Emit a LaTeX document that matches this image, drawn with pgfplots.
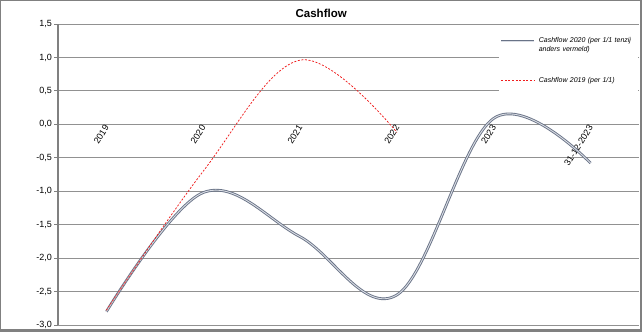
\documentclass[border=0pt]{standalone}
\usepackage{pgfplots}
\pgfplotsset{compat=1.18}
\usepackage{fontspec}
\setmainfont{Liberation Sans}
\definecolor{gridgray}{RGB}{145,145,145}
\definecolor{axisgray}{RGB}{128,128,128}
\definecolor{frameg}{RGB}{128,128,128}
\definecolor{cfout}{RGB}{105,115,135}
\definecolor{cfin}{RGB}{218,221,228}
\definecolor{cfred}{RGB}{240,30,30}
\begin{document}
\begin{tikzpicture}[x=1bp,y=1bp]
\fill[frameg] (-58,-7) rectangle (584,325);
\fill[white] (-57,-4) rectangle (582,324);
\begin{axis}[
  at={(0,0)}, anchor=south west,
  scale only axis, width=581bp, height=301bp,
  xmin=0.5, xmax=6.5, ymin=-3, ymax=1.5,
  axis x line=middle, axis y line=left,
  x axis line style={draw=none},
  y axis line style={-, line width=1.8bp, color=axisgray},
  hide obscured y ticks=false, hide obscured x ticks=false,
  xtick={1,2,3,4,5,6},
  xticklabels={2019,2020,2021,2022,2023,31-12-2023},
  xtick style={draw=none},
  ytick={-3,-2.5,-2,-1.5,-1,-0.5,0,0.5,1,1.5},
  ytick style={color=axisgray, line width=0.8bp},
  ytick align=outside, major tick length=4bp,
  ymajorgrids, grid style={color=gridgray, line width=0.9bp},
  /pgf/number format/.cd, use comma, fixed, fixed zerofill, precision=1, assume math mode=true, /pgfplots/.cd,
  yticklabel style={font=\fontsize{9bp}{10bp}\selectfont, inner sep=2bp},
  xticklabel style={font=\fontsize{9bp}{10bp}\selectfont, rotate=58, anchor=east, inner sep=1bp, xshift=1.5bp},
  title={Cashflow},
  title style={font=\fontsize{11.5bp}{13bp}\selectfont\bfseries, at={(rel axis cs:0.453,1)}, anchor=base, yshift=0.7bp},
  legend cell align=left,
  legend style={draw=none, fill=white, at={(rel axis cs:1,1)}, anchor=north east, xshift=-1bp, yshift=-1bp,
    inner xsep=1bp, inner ysep=12.5bp, row sep=33bp, column sep=3bp,
    nodes={font=\fontsize{7bp}{9bp}\selectfont\itshape, text width=98bp, align=left, inner sep=0bp}},
  legend image code/.code={\path (0bp,0bp) -- (7bp,0bp); \draw[#1] (7bp,0bp) -- (33bp,0bp);},
]
\addplot[smooth, tension=0.6, draw=cfout, line width=0.9bp, double=cfin, double distance=0.9bp]
  coordinates {(1,-2.80) (2,-1.02) (3,-1.68) (4,-2.55) (5,0.09) (6,-0.58)};
\addlegendentry{Cashflow 2020 (per 1/1 tenzij\\anders vermeld)}
\addplot[smooth, tension=0.6, color=cfred, line width=0.75bp, dash pattern=on 2bp off 1.6bp,
  legend image post style={line width=1bp, color=cfred}]
  coordinates {(1,-2.78) (2,-0.70) (3,0.96) (4,-0.12)};
\addlegendentry{Cashflow 2019 (per 1/1)}
\end{axis}
\pgfresetboundingbox
\path (-58,-7) rectangle (584,325);
\end{tikzpicture}
\end{document}
